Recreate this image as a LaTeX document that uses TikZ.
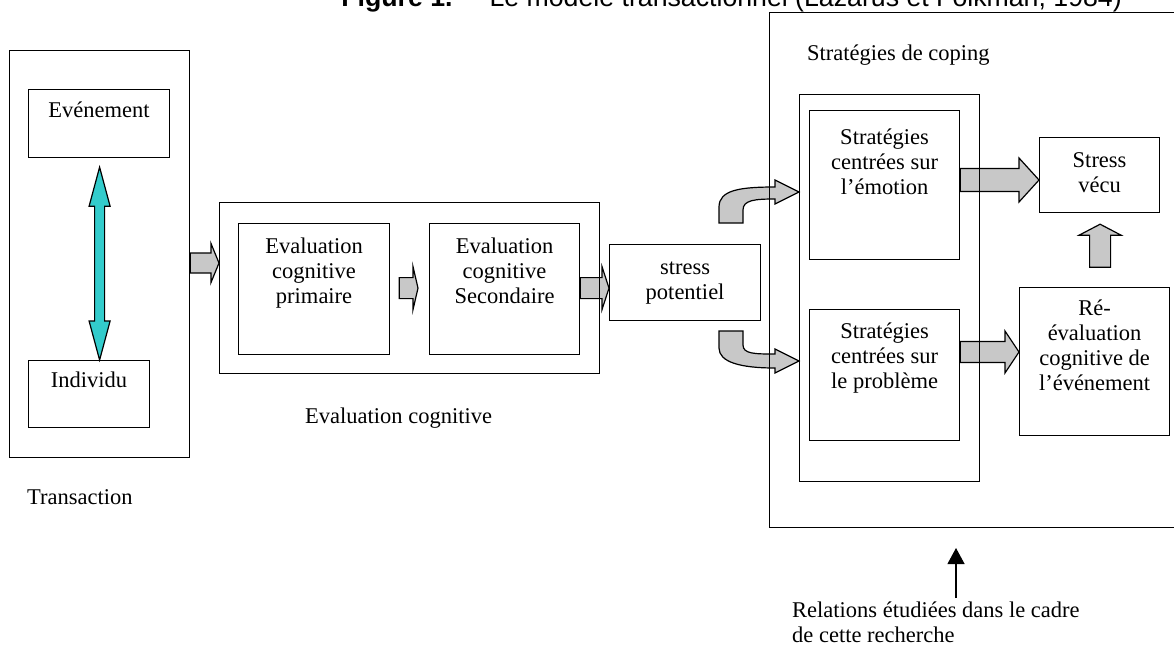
\documentclass[tikz,border=0pt]{standalone}
\usepackage{fontspec}
\setmainfont{Liberation Serif}
\newfontfamily\titlefont{Liberation Sans}
\usetikzlibrary{positioning,calc,arrows.meta,backgrounds}
\definecolor{arrowgrey}{RGB}{200,200,200}
\definecolor{turq}{RGB}{51,204,204}
% block arrow: tail, tip, half shaft, half head, head length
\newcommand{\blockarrow}[5]{%
  \coordinate (hb) at ($(#2)!#5pt!(#1)$);
  \draw[blockarr] ($(#1)!#3pt!90:(#2)$) -- ($(hb)!#3pt!90:(#2)$) -- ($(hb)!#4pt!90:(#2)$) -- (#2)
    -- ($(hb)!#4pt!-90:(#2)$) -- ($(hb)!#3pt!-90:(#2)$) -- ($(#1)!#3pt!-90:(#2)$) -- cycle;}

\begin{document}
\begin{tikzpicture}[x=1pt,y=-1pt,
  font=\fontsize{22.5}{25}\selectfont,
  box/.style={draw, line width=1.2pt, inner sep=0pt, anchor=north west},
  txt/.style={align=center, inner sep=0pt},
  lbl/.style={align=left, inner sep=0pt},
  blockarr/.style={draw, fill=arrowgrey, line width=1.2pt, line join=miter},
  dblarr/.style={blockarr, fill=turq},
  pointer/.style={line width=1.2pt, -{Triangle[width=17pt,length=16pt]}}]
\useasboundingbox (0,0) rectangle (1174,646);
\clip (0,0) rectangle (1174,646);

\node[anchor=base east, inner sep=0pt, font=\titlefont\fontsize{26.7}{30}\selectfont] (title) at (1122,6.5)
  {\textbf{Figure 1.}\hspace{37pt}Le modèle transactionnel (Lazarus et Folkman, 1984)};

% transaction
\node[box, minimum width=180pt, minimum height=407pt] (trans) at (9,50) {};
\node[box, minimum width=141pt, minimum height=68pt] (evt) at (28,89) {};
\node[box, minimum width=121pt, minimum height=67pt] (ind) at (28,360) {};
\node[txt] (evt-t) [below=13pt of evt.north] {Evénement};
\node[txt] (ind-t) [below=11.6pt of ind.north] {Individu};
\node[lbl] (trans-l) [below right=31pt and 18pt of trans.south west] {Transaction};

% evaluation cognitive
\node[box, minimum width=380pt, minimum height=171pt] (evalbox) at (219,202) {};
\node[box, minimum width=151pt, minimum height=131pt] (prim) at (238,223) {};
\node[box, minimum width=150pt, minimum height=131pt] (sec) at (429,223) {};
\node[txt] (prim-t) [below=14.6pt of prim.north] {Evaluation\\cognitive\\primaire};
\node[txt] (sec-t) [below=14.6pt of sec.north] {Evaluation\\cognitive\\Secondaire};
\node[lbl] (eval-l) [below right=33.6pt and 86pt of evalbox.south west] {Evaluation cognitive};

\node[box, minimum width=151pt, minimum height=76pt] (stress) at (609,244) {};
\node[txt] (stress-t) [below=18pt of stress.north] {stress\\potentiel};

% coping
\node[box, minimum width=420pt, minimum height=515pt] (coping) at (769,12) {};
\node[lbl] (coping-l) [below right=32.7pt and 38pt of coping.north west] {Stratégies de coping};
\node[box, minimum width=180pt, minimum height=387pt] (grp) at (799,94) {};
\node[box, minimum width=150pt, minimum height=149pt] (emo) at (809,110) {};
\node[box, minimum width=150pt, minimum height=131pt] (prob) at (809,309) {};
\node[txt] (emo-t) [below=18.7pt of emo.north] {Stratégies\\centrées sur\\l’émotion};
\node[txt] (prob-t) [below=13.7pt of prob.north] {Stratégies\\centrées sur\\le problème};

\node[box, minimum width=120pt, minimum height=75pt] (vecu) at (1039,137) {};
\node[box, minimum width=150pt, minimum height=148pt] (reeval) at (1019,287) {};
\node[txt] (vecu-t) [below=15.5pt of vecu.north] {Stress\\vécu};
\node[txt] (reeval-t) [below=12.7pt of reeval.north] {Ré-\\évaluation\\cognitive de\\l’événement};

\node[lbl] (rel-l) [below right=73pt and 23pt of coping.south west] {Relations étudiées dans le cadre\\de cette recherche};

\coordinate (rtail) at (956,598);
\coordinate (rtip) at (956,548);
\draw[pointer] (rtail) -- (rtip);

% arrows under the boxes
\begin{scope}[on background layer]
\coordinate (dtop) at ($(evt.south)+(0.5,9)$);
\coordinate (dbot) at (dtop |- ind.north);
\draw[dblarr] (dtop) -- ++(10.5,39) -- ++(-5.5,0) -- ($(dbot)+(5,-39)$) -- ++(5.5,0) -- (dbot)
  -- ++(-10.5,-39) -- ++(5.5,0) -- ($(dtop)+(-5,39)$) -- ++(-5.5,0) -- cycle;

\coordinate (a1) at (trans.east |- 0,263);
\coordinate (a2) at (evalbox.west |- 0,263);
\blockarrow{a1}{a2}{10}{19.5}{8}
\coordinate (b1) at ($(prim.east)+(9,-1)$);
\coordinate (b2) at ($(sec.west)+(-11,-1)$);
\blockarrow{b1}{b2}{10.5}{21.5}{5}
\coordinate (c1) at ($(sec.east)+(0,-1)$);
\coordinate (c2) at (stress.west |- c1);
\blockarrow{c1}{c2}{10.5}{21.5}{7}
\coordinate (d1) at (emo.east |- 0,180);
\coordinate (d2) at (vecu.west |- 0,180);
\blockarrow{d1}{d2}{11.5}{22}{20}
\coordinate (e1) at (prob.east |- 0,352);
\coordinate (e2) at (reeval.west |- 0,352);
\blockarrow{e1}{e2}{10.5}{21}{14}
\coordinate (f1) at ($(vecu.south)+(0.5,54)$);
\coordinate (f2) at ($(vecu.south)+(0.5,11)$);
\blockarrow{f1}{f2}{10.5}{21}{11}

\coordinate (tipU) at (grp.west |- 0,192);
\coordinate (tipL) at (grp.west |- 0,361);
\draw[blockarr] (719,223) -- (719,207) .. controls (719,190) and (740,187) .. (775,187) -- (775,180)
  -- (tipU) -- (775,204) -- (775,199) .. controls (755,199) and (743,200) .. (743,210) -- (743,223) -- cycle;
\draw[blockarr] (719,331) -- (719,348) .. controls (719,362) and (740,368) .. (775,368) -- (775,373)
  -- (tipL) -- (775,349) -- (775,354) .. controls (755,354) and (743,354) .. (743,345) -- (743,331) -- cycle;
\end{scope}
\end{tikzpicture}
\end{document}
